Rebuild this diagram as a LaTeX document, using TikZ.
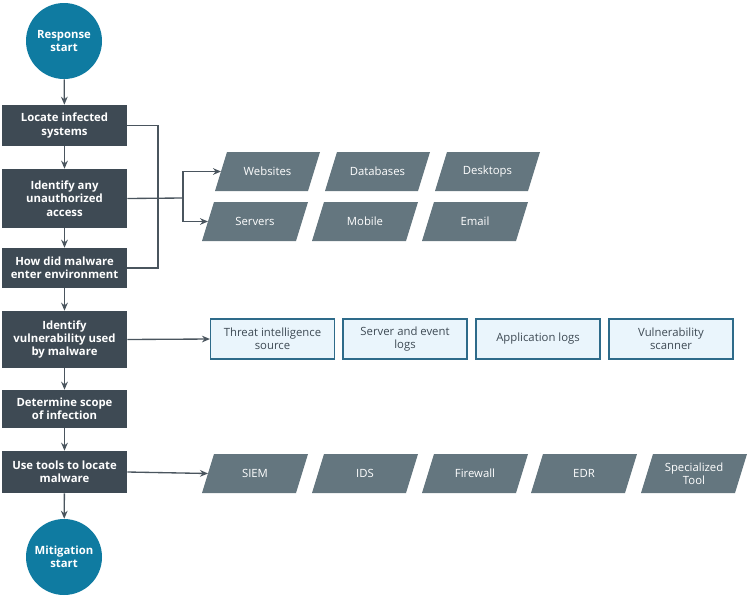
\documentclass[tikz,border=0pt]{standalone}
\usepackage{fontspec}
\setmainfont{Open Sans}
\usetikzlibrary{arrows.meta}
\definecolor{circ}{HTML}{0F7BA1}
\definecolor{dark}{HTML}{3E4A54}
\definecolor{para}{HTML}{64767F}
\definecolor{lb}{HTML}{EAF5FC}
\definecolor{lbb}{HTML}{2E6B8A}
\definecolor{ln}{HTML}{4A555E}
\newcommand\mypara[5]{% name, x1, y1, x2, text ; height 39
  \fill[para] (#2+12,#3) -- (#4+12,#3) -- (#4-0,#3+39) -- (#2-0,#3+39) -- cycle;
  \node[ptext] (#1) at ({(#2+#4)/2+6},#3+19.5) {#5};
  \coordinate (#1w) at (#2+6,#3+19.5);}
\begin{document}
\begin{tikzpicture}[x=0.75pt,y=-0.75pt,
  circn/.style={circle,fill=circ,minimum size=57pt,inner sep=0pt,text=white,font=\fontsize{8.5}{10}\selectfont\bfseries,align=center},
  box/.style={fill=dark,text=white,font=\fontsize{8.5}{10}\selectfont\bfseries,align=center,minimum width=93.75pt,inner sep=0pt},
  ptext/.style={text=white,font=\fontsize{8.5}{10}\selectfont,align=center},
  lbox/.style={draw=lbb,fill=lb,line width=0.8pt,font=\fontsize{8.5}{10}\selectfont,text=dark,align=center,minimum width=93pt,minimum height=30pt,inner sep=0pt},
  arr/.style={draw=ln,line width=1pt,-{Stealth[length=6pt,width=5pt]}},
  ln/.style={draw=ln,line width=1pt}]
\useasboundingbox (0,0) rectangle (749,600);
\node[circn] (s) at (64,41) {Response\\start};
\node[box,minimum height=30.75pt] (b1) at (64.5,125.5) {Locate infected\\systems};
\node[box,minimum height=44.25pt] (b2) at (64.5,198.5) {Identify any\\unauthorized\\access};
\node[box,minimum height=30pt] (b3) at (64.5,268) {How did malware\\enter environment};
\node[box,minimum height=42.75pt] (b4) at (64.5,339.5) {Identify\\vulnerability used\\by malware};
\node[box,minimum height=28.5pt] (b5) at (64.5,409) {Determine scope\\of infection};
\node[box,minimum height=31.5pt] (b6) at (64.5,472) {Use tools to locate\\malware};
\node[circn] (e) at (64,557) {Mitigation\\start};
\draw[arr] (s) -- (b1);
\draw[arr] (b1) -- (b2);
\draw[arr] (b2) -- (b3);
\draw[arr] (b3) -- (b4);
\draw[arr] (b4) -- (b5);
\draw[arr] (b5) -- (b6);
\draw[arr] (b6) -- (e);
\mypara{web}{215}{152}{308}{Websites}
\mypara{db}{325}{152}{418}{Databases}
\mypara{dt}{435}{152}{528}{Desktops}
\mypara{srv}{202}{202}{296}{Servers}
\mypara{mob}{312}{202}{406}{Mobile}
\mypara{em}{422}{202}{516}{Email}
\coordinate (br) at (158,198);
\coordinate (sp) at (183,198);
\draw[ln] (b1.east) -| (br) |- (b3.east);
\draw[ln] (b2.east) -- (sp);
\draw[arr] (sp) |- (webw);
\draw[arr] (sp) |- (srvw);
\node[lbox] (t1) at (272.5,339) {Threat intelligence\\source};
\node[lbox] (t2) at (405,339) {Server and event\\logs};
\node[lbox] (t3) at (538,339) {Application logs};
\node[lbox] (t4) at (671,339) {Vulnerability\\scanner};
\draw[arr] (b4.east) -- (t1.west);
\mypara{siem}{202}{454}{296}{SIEM}
\mypara{ids}{312}{454}{406}{IDS}
\mypara{fw}{422}{454}{516}{Firewall}
\mypara{edr}{531}{454}{625}{EDR}
\mypara{st}{641}{454}{735}{Specialized\\Tool}
\draw[arr] (b6.east) -- (siemw);
\end{tikzpicture}
\end{document}
